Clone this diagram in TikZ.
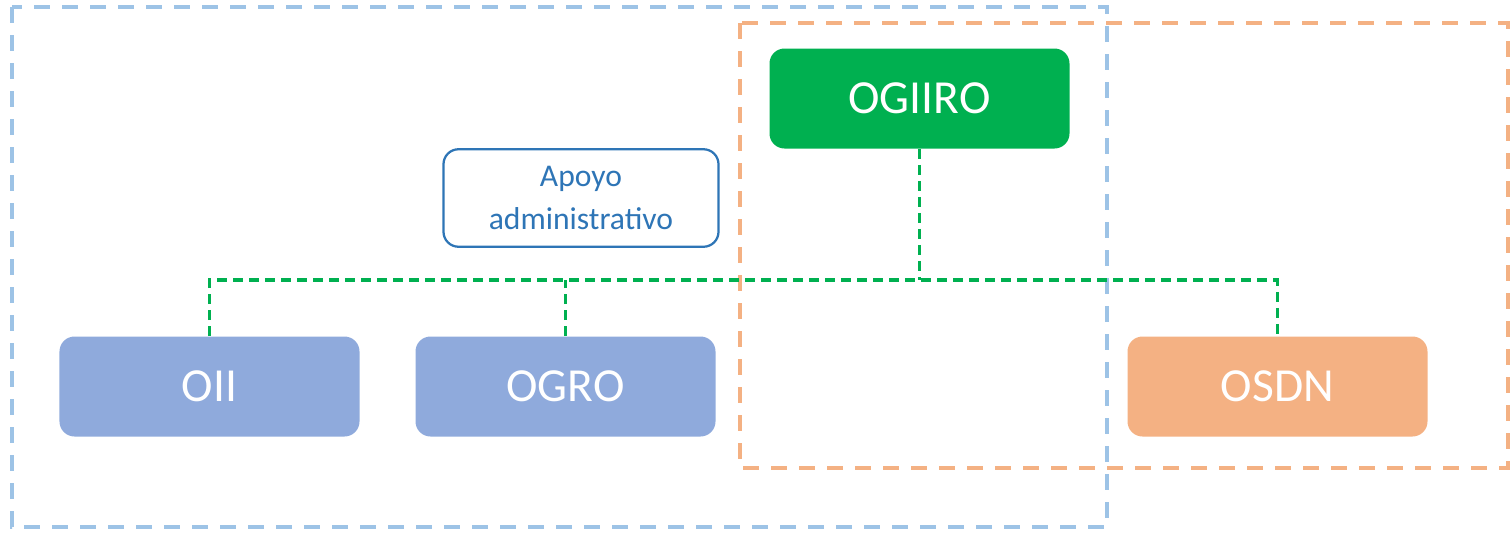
\documentclass[tikz,border=0pt]{standalone}
\usepackage{fontspec}
\setmainfont{Carlito}
\definecolor{ogreen}{HTML}{00B050}
\definecolor{oblue}{HTML}{8FAADC}
\definecolor{oorange}{HTML}{F4B183}
\definecolor{lblue}{HTML}{9DC3E6}
\definecolor{dblue}{HTML}{2E75B6}
\tikzset{
  unit/.style={rounded corners=3mm,minimum width=60mm,minimum height=20mm,text=white,font=\fontsize{27}{30}\selectfont},
  group/.style={line width=0.9mm,dash pattern=on 3.2mm off 2.4mm},
  link/.style={draw=ogreen,line width=0.75mm,dash pattern=on 2mm off 1.2mm}
}
\begin{document}
\begin{tikzpicture}[x=0.2mm,y=-0.2mm]
    \useasboundingbox (0,0) rectangle (1511,533);

    \draw[group,draw=lblue] (12,7) rectangle (1107,527);
    \draw[group,draw=oorange] (740,23) rectangle (1508,468);

    \node[unit,fill=ogreen] (ogiiro) at (919.5,98.5) {OGIIRO};
    \node[draw=dblue,line width=0.45mm,rounded corners=3mm,minimum width=55mm,minimum height=19.5mm,
      text=dblue,align=center,font=\fontsize{18}{24}\selectfont] (apoyo) at (581,198) {Apoyo\\administrativo};

    \node[unit,fill=oblue] (oii) at (209.5,386.5) {OII};
    \node[unit,fill=oblue] (ogro) at (565.5,386.5) {OGRO};
    \node[unit,fill=oorange] (osdn) at (1277.5,386.5) {OSDN};

    \coordinate (bus) at (919.5,280);
    \draw[link] (ogiiro.south) -- (bus);
    \draw[link] (oii.north) |- (osdn.north |- bus) -- (osdn.north);
    \draw[link] (ogro.north) -- (ogro.north |- bus);
  \end{tikzpicture}
\end{document}
